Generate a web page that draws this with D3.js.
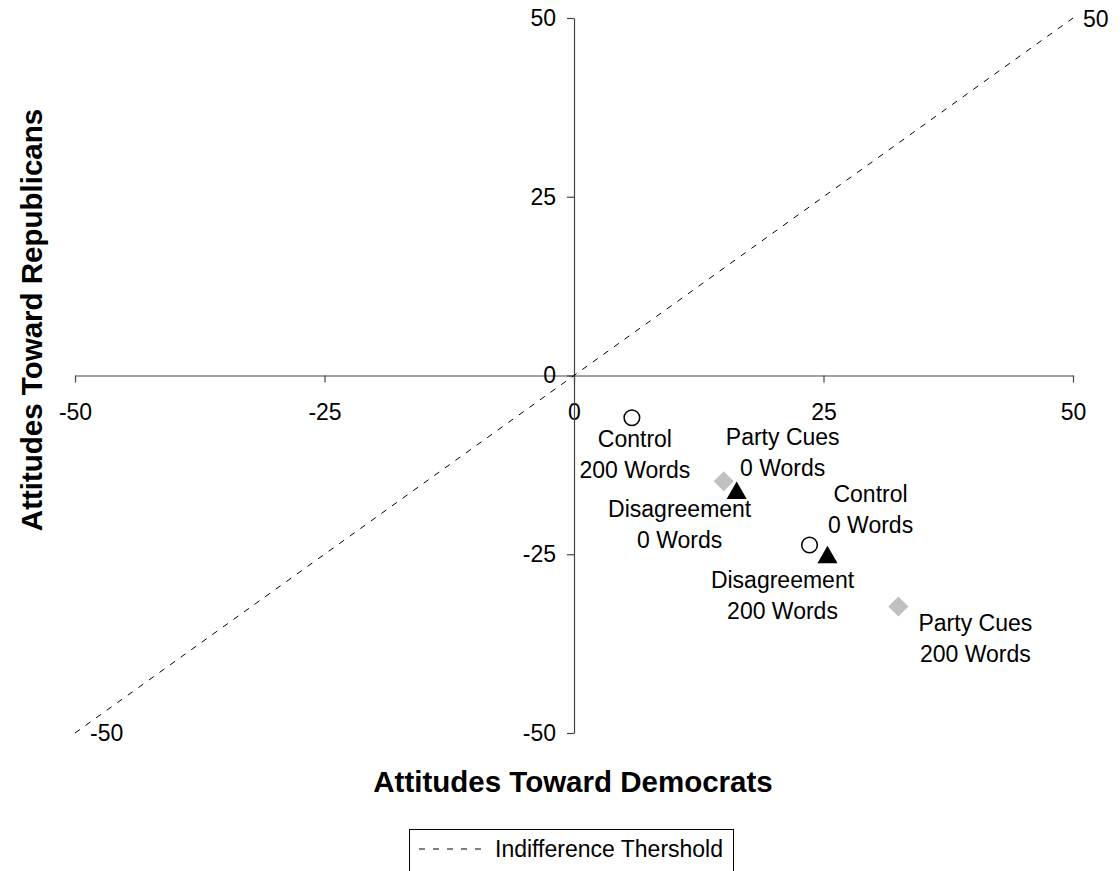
<!DOCTYPE html>
<html>
<head>
<meta charset="utf-8">
<script src="https://cdn.jsdelivr.net/npm/d3@7"></script>
<style>
  html, body { margin: 0; padding: 0; background: #fff; }
  svg { display: block; font-family: "Liberation Sans", Arial, sans-serif; }
</style>
</head>
<body>
<svg id="chart" width="1120" height="871"></svg>
<script>
// Treatment conditions (mean attitudes toward each party)
const conditions = ["Control", "Party Cues", "Disagreement", "Control", "Disagreement", "Party Cues"];
const wordCounts = ["200 Words", "0 Words", "0 Words", "0 Words", "200 Words", "200 Words"];
const markerTypes = ["circle", "diamond", "triangle", "circle", "triangle", "diamond"];
const towardDemocrats = [5.8, 15.0, 16.3, 23.6, 25.4, 32.5];
const towardRepublicans = [-5.9, -14.8, -16.1, -23.7, -25.1, -32.3];

// Indifference threshold: equal attitudes toward both parties
const thresholdX = [-50, 50];
const thresholdY = [-50, 50];

const tickValues = [-50, -25, 0, 25, 50];

// Label offsets (pixels from the marker): label centre x, first baseline
const labelOffsets = [
  [3, 29], [59, -36], [-57, 26], [61, -43], [-45, 33], [77, 25]
];

const svg = d3.select("#chart");
const x = d3.scaleLinear().domain([-50, 50]).range([75, 1073]);
const y = d3.scaleLinear().domain([-50, 50]).range([733, 18]);

const FONT = 23;
const axisColor = "#444";
const plainFormat = d => String(d);   // ASCII hyphen for negatives

// Horizontal axis through the origin
const xAxis = svg.append("g")
  .attr("transform", `translate(0,${y(0)})`)
  .call(d3.axisBottom(x).tickValues(tickValues).tickFormat(plainFormat)
    .tickSize(7).tickSizeOuter(0).tickPadding(21));
// Vertical axis through the origin
const yAxis = svg.append("g")
  .attr("transform", `translate(${x(0)},0)`)
  .call(d3.axisLeft(y).tickValues(tickValues).tickFormat(plainFormat)
    .tickSize(7).tickSizeOuter(0).tickPadding(11));

[xAxis, yAxis].forEach(g => {
  g.attr("font-family", null).attr("font-size", null);
  g.select(".domain").attr("stroke", axisColor).attr("stroke-width", 1.2);
  g.selectAll(".tick line").attr("stroke", axisColor).attr("stroke-width", 1.2);
  g.selectAll(".tick text").attr("fill", "#000").style("font-size", FONT + "px");
});

// Diagonal dashed threshold line
const line = d3.line().x(d => x(d[0])).y(d => y(d[1]));
const thresholdPts = thresholdX.map((v, i) => [v, thresholdY[i]]);
svg.append("path")
  .datum(thresholdPts)
  .attr("d", line)
  .attr("fill", "none")
  .attr("stroke", "#000")
  .attr("stroke-width", 1)
  .attr("stroke-dasharray", "6,7");

// End labels of the threshold line
svg.append("text")
  .attr("x", x(thresholdX[0]) + 15).attr("y", y(thresholdY[0]) + 8)
  .style("font-size", FONT + "px").text(plainFormat(thresholdY[0]));
svg.append("text")
  .attr("x", x(thresholdX[1]) + 10).attr("y", y(thresholdY[1]) + 9)
  .style("font-size", FONT + "px").text(plainFormat(thresholdY[1]));

// Markers
const symbolFor = {
  circle: d3.symbol().type(d3.symbolCircle).size(Math.PI * 7.8 * 7.8),
  diamond: d3.symbol().type(d3.symbolSquare).size(14.2 * 14.2),
  triangle: d3.symbol().type(d3.symbolTriangle).size(175)
};
const styleFor = {
  circle: { fill: "#fff", stroke: "#000", sw: 1.5, rot: 0 },
  diamond: { fill: "#c0c0c0", stroke: "none", sw: 0, rot: 45 },
  triangle: { fill: "#000", stroke: "none", sw: 0, rot: 0 }
};

const points = conditions.map((c, i) => ({
  name: c, words: wordCounts[i], type: markerTypes[i],
  dx: towardDemocrats[i], ry: towardRepublicans[i], off: labelOffsets[i]
}));

svg.append("g").selectAll("path")
  .data(points)
  .join("path")
  .attr("d", d => symbolFor[d.type]())
  .attr("transform", d => {
    const s = styleFor[d.type];
    const yOff = d.type === "triangle" ? 2.5 : 0;
    return `translate(${x(d.dx)},${y(d.ry) + yOff}) rotate(${s.rot})`;
  })
  .attr("fill", d => styleFor[d.type].fill)
  .attr("stroke", d => styleFor[d.type].stroke)
  .attr("stroke-width", d => styleFor[d.type].sw);

// Two-line labels for each condition
const labels = svg.append("g").selectAll("text")
  .data(points)
  .join("text")
  .attr("text-anchor", "middle")
  .style("font-size", FONT + "px")
  .attr("transform", d => `translate(${x(d.dx) + d.off[0]},${y(d.ry) + d.off[1]})`);
labels.append("tspan").attr("x", 0).attr("y", 0).text(d => d.name);
labels.append("tspan").attr("x", 0).attr("y", 31).text(d => d.words);

// Axis titles
svg.append("text")
  .attr("x", 573).attr("y", 792)
  .attr("text-anchor", "middle")
  .style("font-size", "29.5px").style("font-weight", "bold")
  .text("Attitudes Toward Democrats");
svg.append("text")
  .attr("transform", "translate(42,320) rotate(-90)")
  .attr("text-anchor", "middle")
  .style("font-size", "29.5px").style("font-weight", "bold")
  .text("Attitudes Toward Republicans");

// Legend
const legend = svg.append("g");
legend.append("rect")
  .attr("x", 409.5).attr("y", 829.5).attr("width", 324).attr("height", 60)
  .attr("fill", "#fff").attr("stroke", "#000").attr("stroke-width", 1);
legend.append("line")
  .attr("x1", 419).attr("x2", 489).attr("y1", 849).attr("y2", 849)
  .attr("stroke", "#000").attr("stroke-width", 1).attr("stroke-dasharray", "6,8");
legend.append("text")
  .attr("x", 495).attr("y", 857)
  .style("font-size", FONT + "px")
  .text("Indifference Thershold");
</script>
</body>
</html>
